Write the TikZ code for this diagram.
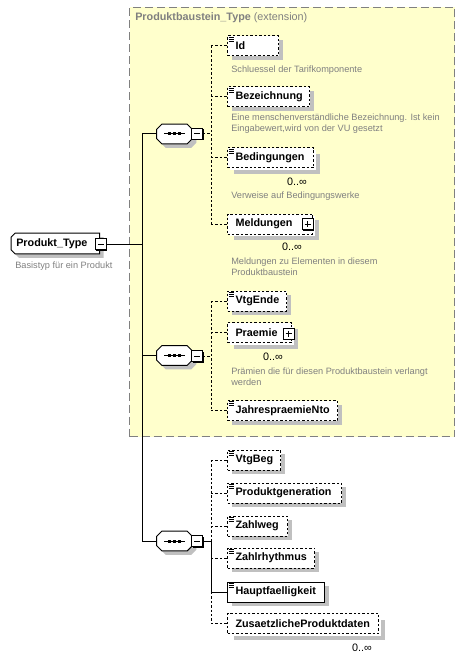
\documentclass[tikz,border=0pt]{standalone}
\usepackage{fontspec}
\setmainfont{Liberation Sans}
\usetikzlibrary{backgrounds}
\definecolor{extfill}{HTML}{FFFFCC}
\definecolor{extline}{HTML}{808080}
\definecolor{desctext}{HTML}{808080}
\definecolor{shadegray}{HTML}{C0C0C0}
\newcommand\listicon[1]{%
  \foreach \dy in {1.5,3.5,5.5}{\draw[line width=0.6pt] ([shift={(1.5,\dy)}]#1.north west) -- ++(5,0);}}
\newcommand\seqsym[2]{%
  \node[seqanchor] (#1) at #2 {};
  \draw[seqshape] ([shift={(5,0)}]#1.north west) -- ([shift={(-5,0)}]#1.north east)
    -- ([shift={(0,5)}]#1.north east) -- ([shift={(0,-5)}]#1.south east)
    -- ([shift={(-5,0)}]#1.south east) -- ([shift={(5,0)}]#1.south west)
    -- ([shift={(0,-5)}]#1.south west) -- ([shift={(0,5)}]#1.north west) -- cycle;
  \draw[line width=0.75pt] ([shift={(-10.5,0)}]#1.center) -- ([shift={(10.5,0)}]#1.center);
  \foreach \dx in {-5,0,5}{\fill ([shift={(\dx-1.5,-1.5)}]#1.center) rectangle ++(3,3);}%
}
\newcommand\minusbox[2]{%
  \node[pmbox] (#1) at #2 {};
  \draw[line width=0.75pt] ([shift={(-3,0)}]#1.center) -- ([shift={(3,0)}]#1.center);}
\newcommand\plusbox[2]{%
  \node[pmbox] (#1) at #2 {};
  \draw[line width=0.75pt] ([shift={(-3,0)}]#1.center) -- ([shift={(3,0)}]#1.center);
  \draw[line width=0.75pt] ([shift={(0,-3)}]#1.center) -- ([shift={(0,3)}]#1.center);}
\begin{document}
\begin{tikzpicture}[x=0.75pt,y=-0.75pt,
  dsh/.style={dash pattern=on 1.8pt off 1.5pt},
  shad/.style={preaction={draw=none,fill=shadegray,transform canvas={xshift=3pt,yshift=-3pt}}},
  multi/.style={preaction={draw=none,fill=shadegray,transform canvas={xshift=4.5pt,yshift=-4.5pt}},
                preaction={fill=white,transform canvas={xshift=1.5pt,yshift=-1.5pt}}},
  elbase/.style={draw,fill=white,line width=0.75pt,anchor=west,minimum height=15pt,
    inner xsep=6pt,inner ysep=0pt,text width=#1,align=left,
    font={\fontsize{8.1pt}{10pt}\selectfont\bfseries\hyphenpenalty=10000\relax}},
  opt/.style={elbase=#1,dsh,shad},
  req/.style={elbase=#1,shad},
  optmulti/.style={elbase=#1,dsh,multi},
  desc/.style={anchor=west,align=left,text=desctext,inner sep=0pt,
    font={\fontsize{6.9pt}{8.25pt}\selectfont}},
  occ/.style={inner sep=0pt,font={\fontsize{8.1pt}{10pt}\selectfont}},
  conn/.style={line width=0.75pt},
  dconn/.style={line width=0.75pt,dsh},
  seqanchor/.style={minimum width=26.25pt,minimum height=14.25pt,inner sep=0pt},
  seqshape/.style={draw,fill=white,line width=0.75pt,shad},
  pmbox/.style={draw,fill=white,line width=0.75pt,minimum size=8.25pt,inner sep=0pt,
    preaction={draw=none,fill=black,transform canvas={xshift=0.75pt,yshift=-0.75pt}}},
]
\useasboundingbox (0,0) rectangle (465,659);

% extension area
\node[draw=extline,fill=extfill,line width=0.75pt,dash pattern=on 6pt off 3pt,
  minimum width=243.75pt,minimum height=321.75pt,anchor=north west,inner sep=0pt] (ext) at (129,7) {};
\node[anchor=west,text=desctext,inner sep=0pt,font={\fontsize{8.1pt}{10pt}\selectfont}] (exthead) at (135,18)
  {\textbf{Produktbaustein\_Type} (extension)};

% root type
\node[anchor=west,inner xsep=3.75pt,inner ysep=0pt,minimum height=15pt,text width=58.5pt,align=left,
  font={\fontsize{8.1pt}{10pt}\selectfont\bfseries}] (pt) at (11,243.5) {Produkt\_Type};
\begin{scope}[on background layer]
\draw[fill=white,line width=0.75pt,shad] ([shift={(4,0)}]pt.north west) -- (pt.north east) -- (pt.south east)
  -- ([shift={(4,0)}]pt.south west) -- ([shift={(0,-4)}]pt.south west) -- ([shift={(0,4)}]pt.north west) -- cycle;
\end{scope}
\minusbox{ptm}{(100.5,244)}
\node[desc] (dpt) at (15,266) {Basistyp für ein Produkt};

% sequences
\seqsym{s1}{(174.5,134)}
\minusbox{m1}{(197,134)}
\seqsym{s2}{(174.5,355.5)}
\minusbox{m2}{(197,356)}
\seqsym{s3}{(174.5,541)}
\minusbox{m3}{(197,541)}

% elements
\node[opt=26.25pt] (id) at (227,46) {Id};
\node[opt=49.5pt] (bez) at (227,97) {Bezeichnung};
\node[optmulti=52.5pt] (bed) at (227,158) {Bedingungen};
\node[optmulti=51.75pt] (mel) at (227,224) {Meldungen};
\node[opt=32.25pt] (vtgende) at (227,301) {VtgEnde};
\node[optmulti=36pt] (praemie) at (227,332.5) {Praemie};
\node[opt=70.5pt] (jpn) at (227,410.5) {JahrespraemieNto};
\node[opt=27.75pt] (vtgbeg) at (227,460) {VtgBeg};
\node[opt=73.5pt] (pgen) at (227,493) {Produktgeneration};
\node[opt=33pt] (zweg) at (227,526) {Zahlweg};
\node[opt=53.25pt] (zrh) at (227,558) {Zahlrhythmus};
\node[req=60.75pt] (haupt) at (227,592) {Hauptfaelligkeit};
\node[optmulti=101.25pt] (zus) at (227,623.5) {ZusaetzlicheProduktdaten};

\plusbox{melp}{(307.5,224)}
\plusbox{praep}{(288.5,333.5)}

\foreach \nd in {id,bez,bed,vtgende,jpn,vtgbeg,pgen,zweg,zrh,haupt}{\listicon{\nd}}

% occurrences
\node[occ] (bedocc) at (297,182) {0..∞};
\node[occ] (melocc) at (292,247) {0..∞};
\node[occ] (praocc) at (273,357) {0..∞};
\node[occ] (zusocc) at (362,648) {0..∞};

% descriptions
\node[desc] (did) at (231,70) {Schluessel der Tarifkomponente};
\node[desc] (dbez) at (231,123.5) {Eine menschenverständliche Bezeichnung. Ist kein\\Eingabewert,wird von der VU gesetzt};
\node[desc] (dbed) at (231,196) {Verweise auf Bedingungswerke};
\node[desc] (dmel) at (231,267) {Meldungen zu Elementen in diesem\\Produktbaustein};
\node[desc] (dpra) at (231,376.5) {Prämien die für diesen Produktbaustein verlangt\\werden};

% connectors
\coordinate (tk) at (142,0);
\coordinate (gx) at (211,0);
\draw[conn] (ptm.east) -- (ptm.east -| tk);
\draw[conn] (s1.west) -- (s1.west -| tk) -- (s3.west -| tk) -- (s3.west);
\draw[conn] (s2.west -| tk) -- (s2.west);

\draw[dconn] (m1.east) -- (m1.east -| gx);
\draw[dconn] (id.west -| gx) -- (mel.west -| gx);
\foreach \nd in {id,bez,bed,mel}{\draw[dconn] (\nd.west -| gx) -- (\nd.west);}

\draw[dconn] (m2.east) -- (m2.east -| gx);
\draw[dconn] (vtgende.west -| gx) -- (jpn.west -| gx);
\foreach \nd in {vtgende,praemie,jpn}{\draw[dconn] (\nd.west -| gx) -- (\nd.west);}

\draw[conn] (m3.east) -- (m3.east -| gx) -- (haupt.west -| gx) -- (haupt.west);
\draw[dconn] (vtgbeg.west -| gx) -- (m3.east -| gx);
\draw[dconn] (haupt.west -| gx) -- (zus.west -| gx);
\foreach \nd in {vtgbeg,pgen,zweg,zrh,zus}{\draw[dconn] (\nd.west -| gx) -- (\nd.west);}
\end{tikzpicture}
\end{document}
